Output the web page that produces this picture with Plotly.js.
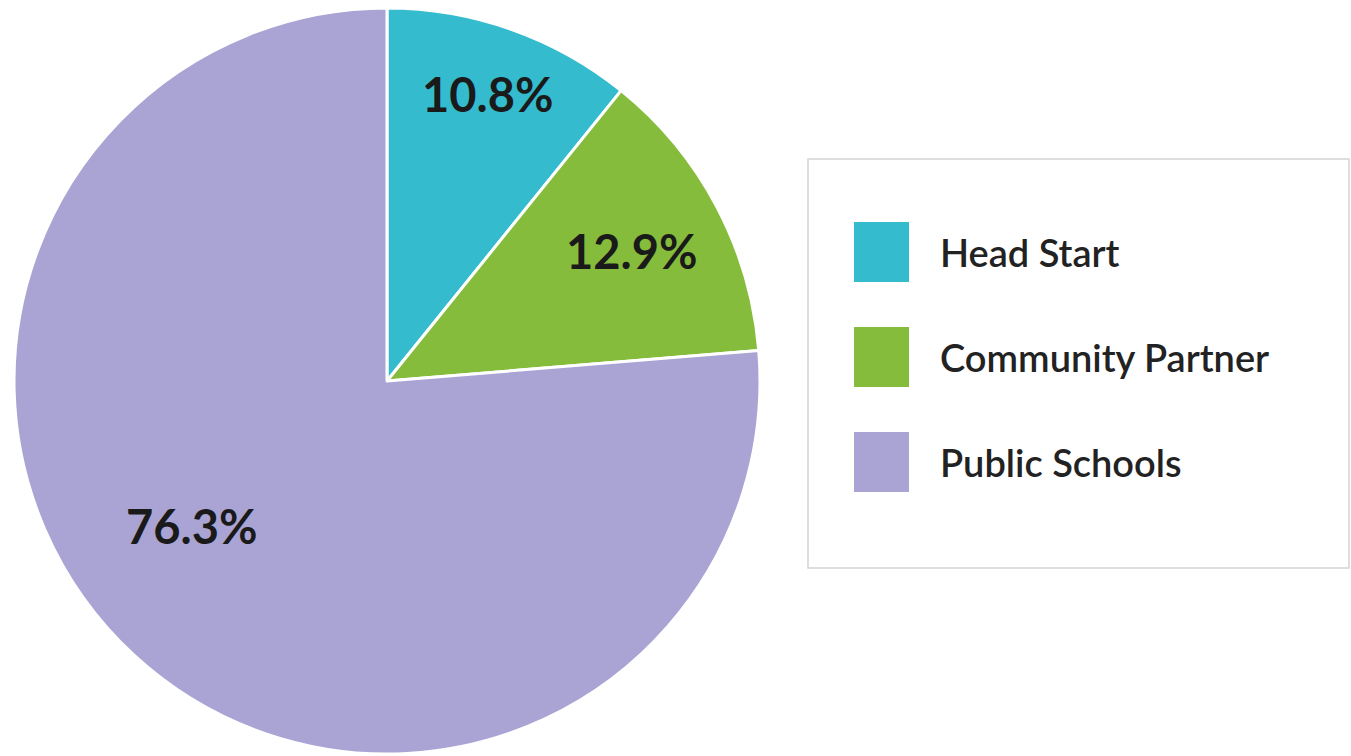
<!DOCTYPE html>
<html>
<head>
<meta charset="utf-8">
<script src="https://cdn.plot.ly/plotly-3.0.1.min.js"></script>
<style>html,body{margin:0;padding:0;background:#fff;}#chart{width:1351px;height:756px;}</style>
</head>
<body>
<div id="chart"></div>
<script>
const categories = ["Head Start", "Community Partner", "Public Schools"];
const shares = [10.8, 12.9, 76.3];
const colors = ["#34BBCD", "#86BC3B", "#AAA4D5"];
const labelPos = [[487, 94], [631, 251], [191, 526]];

const W = 1351, H = 756;
const px = x => x / W;
const py = y => 1 - y / H;

const pie = {
  type: "pie",
  labels: categories,
  values: shares,
  sort: false,
  direction: "clockwise",
  rotation: 0,
  marker: { colors: colors, line: { color: "#ffffff", width: 3 } },
  textinfo: "none",
  hoverinfo: "label+percent",
  domain: { x: [px(14), px(760)], y: [py(754), py(8)] },
  showlegend: false
};

const shapes = [{
  type: "rect", xref: "paper", yref: "paper",
  x0: px(808), x1: px(1349), y0: py(568), y1: py(159),
  line: { color: "#d4d4d4", width: 1.5 }, fillcolor: "rgba(0,0,0,0)"
}];
const annotations = [];
shares.forEach((v, i) => {
  annotations.push({
    xref: "paper", yref: "paper", x: px(labelPos[i][0]), y: py(labelPos[i][1]),
    xanchor: "center", yanchor: "middle", showarrow: false, text: v.toFixed(1) + "%",
    font: { family: "Lato, 'Open Sans', sans-serif", size: 47, color: "#1a1a1a", weight: "bold" }
  });
});
const rowY = [252, 357, 462];
categories.forEach((c, i) => {
  shapes.push({
    type: "rect", xref: "paper", yref: "paper",
    x0: px(854), x1: px(909), y0: py(rowY[i] + 30), y1: py(rowY[i] - 30),
    line: { width: 0 }, fillcolor: colors[i]
  });
  annotations.push({
    xref: "paper", yref: "paper", x: px(938), y: py(rowY[i]),
    xanchor: "left", yanchor: "middle", showarrow: false, text: c,
    font: { family: "Lato, 'Open Sans', sans-serif", size: 38, color: "#222222", weight: 600 }
  });
});

Plotly.newPlot("chart", [pie], {
  width: W, height: H,
  margin: { l: 0, r: 0, t: 0, b: 0 },
  paper_bgcolor: "#ffffff",
  shapes: shapes,
  annotations: annotations
}, { displayModeBar: false, staticPlot: true });
</script>
</body>
</html>
